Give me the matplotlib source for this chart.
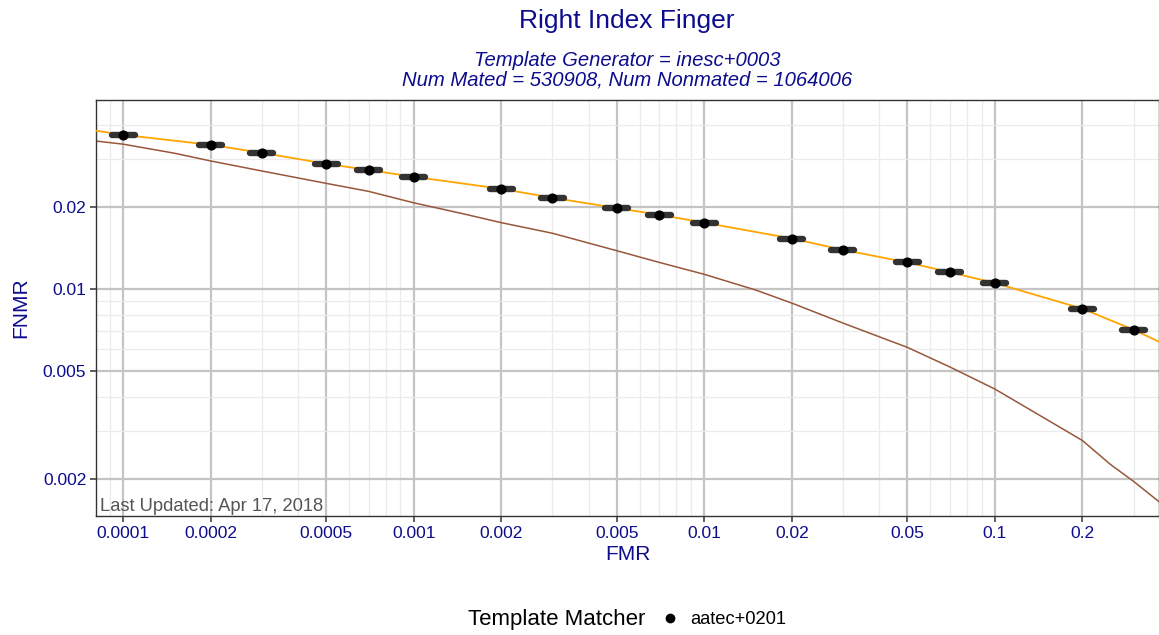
import matplotlib
matplotlib.use("Agg")
import matplotlib.pyplot as plt
from matplotlib.ticker import FixedLocator, LogLocator, NullFormatter
from matplotlib.lines import Line2D

plt.rcParams['font.family'] = ['Liberation Sans', 'DejaVu Sans']

# operating points for aatec+0201 (dots with FMR confidence bars)
point_fmr = [0.0001, 0.0002, 0.0003, 0.0005, 0.0007, 0.001, 0.002, 0.003, 0.005,
             0.007, 0.01, 0.02, 0.03, 0.05, 0.07, 0.1, 0.2, 0.3]
point_fnmr = [0.0368, 0.0338, 0.0316, 0.0288, 0.0273, 0.0258, 0.0233, 0.0216, 0.0198,
              0.0187, 0.0175, 0.0153, 0.0139, 0.0125, 0.0115, 0.0105, 0.00845, 0.00707]
ci_factor = 1.095  # half width of the horizontal bars, as a ratio

# orange DET curve
orange_fmr = [8.07e-5] + point_fmr + [0.367]
orange_fnmr = [0.0381] + point_fnmr + [0.00639]

# brown DET curve
brown_fmr = [8.07e-5, 0.0001, 0.00015, 0.0002, 0.0003, 0.0005, 0.0007, 0.001, 0.0015, 0.002,
             0.003, 0.005, 0.007, 0.01, 0.015, 0.02, 0.03, 0.05, 0.07, 0.1, 0.143, 0.2, 0.25,
             0.3, 0.367]
brown_fnmr = [0.0349, 0.0340, 0.0315, 0.0295, 0.0271, 0.0244, 0.0228, 0.0207, 0.0188, 0.0175,
              0.0160, 0.0138, 0.0125, 0.0113, 0.0099, 0.00886, 0.00748, 0.00609, 0.00516,
              0.00428, 0.00342, 0.00277, 0.00226, 0.00196, 0.00165]

x_ticks = [0.0001, 0.0002, 0.0005, 0.001, 0.002, 0.005, 0.01, 0.02, 0.05, 0.1, 0.2]
x_labels = ['0.0001', '0.0002', '0.0005', '0.001', '0.002', '0.005', '0.01', '0.02', '0.05', '0.1', '0.2']
y_ticks = [0.002, 0.005, 0.01, 0.02]
y_labels = ['0.002', '0.005', '0.01', '0.02']

blue = '#0C0C8C'

fig = plt.figure(figsize=(11.59, 6.35), dpi=100)
ax = fig.add_axes([96 / 1159, 1 - 516 / 635, 1 - 96 / 1159, 416 / 635])

ax.set_xscale('log')
ax.set_yscale('log')
ax.set_xlim(8.07e-5, 0.367)
ax.set_ylim(0.001462, 0.0494)

ax.plot(brown_fmr, brown_fnmr, color='#98573A', lw=1.1, zorder=2)
ax.plot(orange_fmr, orange_fnmr, color='#FFA500', lw=1.3, zorder=3)

xlo = [f - f / ci_factor for f in point_fmr]
xhi = [f * ci_factor - f for f in point_fmr]
eb = ax.errorbar(point_fmr, point_fnmr, xerr=[xlo, xhi], fmt='none', ecolor='#333333',
                 elinewidth=4.6, capsize=0, zorder=4)
for coll in eb[2]:
    coll.set_capstyle('round')
ax.plot(point_fmr, point_fnmr, 'o', color='black', ms=6.3, zorder=5)

ax.xaxis.set_major_locator(FixedLocator(x_ticks))
ax.set_xticklabels(x_labels)
ax.yaxis.set_major_locator(FixedLocator(y_ticks))
ax.set_yticklabels(y_labels)
ax.xaxis.set_minor_locator(LogLocator(base=10, subs=range(1, 10), numticks=20))
ax.yaxis.set_minor_locator(LogLocator(base=10, subs=range(1, 10), numticks=20))
ax.xaxis.set_minor_formatter(NullFormatter())
ax.yaxis.set_minor_formatter(NullFormatter())

ax.set_axisbelow(True)
ax.grid(which='minor', color='#EBEBEB', lw=0.9)
ax.grid(which='major', color='#C4C4C4', lw=1.6)
ax.tick_params(which='minor', length=0)
ax.tick_params(which='major', length=4, width=1.1, color='#333333',
               labelsize=12.5, labelcolor=blue, pad=3)
for s in ax.spines.values():
    s.set_color('#333333')
    s.set_linewidth(1.0)

ax.set_xlabel('FMR', fontsize=15, color=blue, labelpad=3)
ax.set_ylabel('FNMR', fontsize=15, color=blue, labelpad=9)

ax.text(0.004, 0.003, 'Last Updated: Apr 17, 2018', transform=ax.transAxes,
        fontsize=13.2, color='#555555', ha='left', va='bottom')

fig.text(627 / 1159, 1 - 21 / 635, 'Right Index Finger', fontsize=19, color=blue,
         ha='center', va='center')
fig.text(627 / 1159, 1 - 60 / 635, 'Template Generator = inesc+0003', fontsize=14.6,
         color=blue, style='italic', ha='center', va='center')
fig.text(627 / 1159, 1 - 80 / 635, 'Num Mated = 530908, Num Nonmated = 1064006',
         fontsize=14.6, color=blue, style='italic', ha='center', va='center')

# legend
fig.text(468 / 1159, 1 - 620 / 635, 'Template Matcher', fontsize=16, color='black',
         ha='left', va='center')
handle = Line2D([], [], marker='o', ls='none', color='black', ms=6)
fig.legend([handle], ['aatec+0201'], loc='center left', bbox_to_anchor=(652 / 1159, 1 - 620 / 635),
           frameon=False, fontsize=13.2, handlelength=1.0, handletextpad=0.6, borderpad=0)

fig.savefig('out.png', dpi=100)
